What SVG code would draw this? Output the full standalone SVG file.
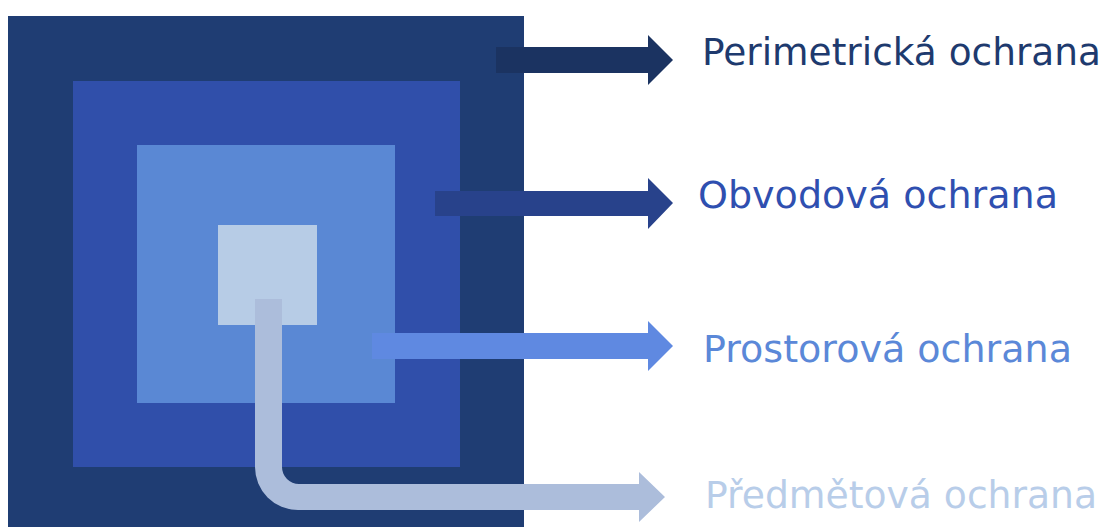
<svg xmlns="http://www.w3.org/2000/svg" width="1109" height="527" viewBox="0 0 1109 527">
<style>
.lbl{font-family:"DejaVu Sans","Liberation Sans",sans-serif;font-size:37px;}
</style>
<rect width="1109" height="527" fill="#ffffff"/>
<g id="perimetricka">
<rect x="8" y="16" width="516" height="520" fill="#1f3d73"/>
</g>
<g id="obvodova">
<rect x="73" y="81" width="387" height="386" fill="#304faa"/>
</g>
<g id="prostorova">
<rect x="137" y="145" width="258" height="258" fill="#5a88d4"/>
</g>
<g id="predmetova">
<rect x="218" y="225" width="99" height="100" fill="#b7cce6"/>
</g>
<g id="connectors">
<polygon points="496,47 648,47 648,35 673,60 648,85 648,73 496,73" fill="#1b3361"/>
<polygon points="435,191 648,191 648,178 673,203 648,229 648,216 435,216" fill="#28428b"/>
<polygon points="372,333 648,333 648,321 673,346 648,371 648,359 372,359" fill="#5f89e1"/>
<path d="M255,299 L282,299 L282,467 A17,17 0 0 0 299,484 L639,484 L639,472 L665,497 L639,522 L639,510 L298,510 A43,43 0 0 1 255,467 Z" fill="#acbddb"/>
</g>
<g id="labels">
<text class="lbl" x="702" y="65" fill="#1e3a6e" textLength="399" lengthAdjust="spacingAndGlyphs">Perimetrická ochrana</text>
<text class="lbl" x="698" y="208" fill="#2f4fb0" textLength="360" lengthAdjust="spacingAndGlyphs">Obvodová ochrana</text>
<text class="lbl" x="703" y="362" fill="#5b88d8" textLength="369" lengthAdjust="spacingAndGlyphs">Prostorová ochrana</text>
<text class="lbl" x="705" y="508" fill="#b8cde9" textLength="392" lengthAdjust="spacingAndGlyphs">Předmětová ochrana</text>
</g>
</svg>
